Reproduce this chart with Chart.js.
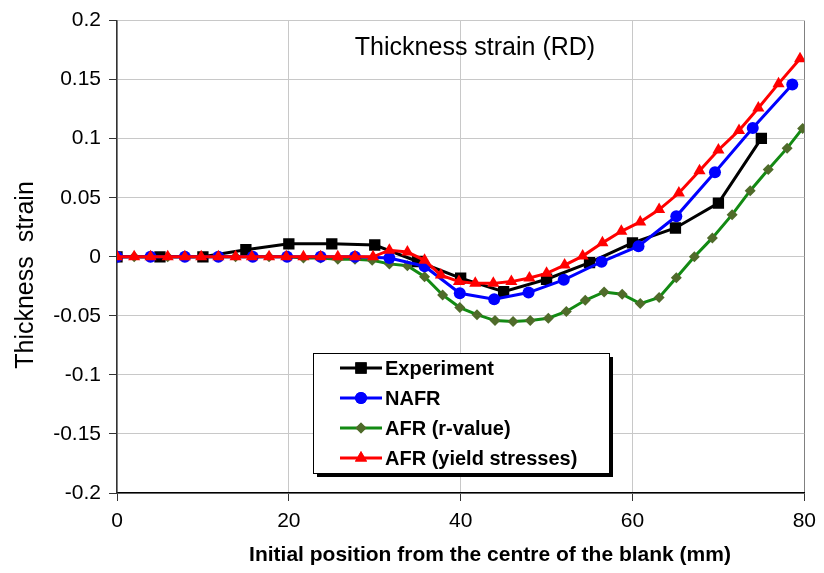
<!DOCTYPE html>
<html>
<head>
<meta charset="utf-8">
<script src="https://cdn.jsdelivr.net/npm/chart.js@4.4.1/dist/chart.umd.min.js"></script>
<style>
  html, body { margin: 0; padding: 0; background: #fff; }
  #wrap { width: 824px; height: 573px; }
</style>
</head>
<body>
<div id="wrap"><canvas id="strainChart" width="824" height="573"></canvas></div>
<script>
// Thickness strain along RD
const expX = [0, 5, 10, 15, 20, 25, 30, 35, 40, 45, 50, 55, 60, 65, 70, 75];
const expY = [0, 0, 0, 0.006, 0.011, 0.011, 0.01, -0.004, -0.018, -0.0295, -0.019, -0.005, 0.0118, 0.0244, 0.0455, 0.1003];

const nafrX = [0, 3.9, 7.9, 11.8, 15.8, 19.8, 23.7, 27.7, 31.7, 35.8, 39.9, 43.9, 47.9, 52, 56.4, 60.7, 65.1, 69.6, 74, 78.6];
const nafrY = [0, 0, 0, 0, 0, 0, 0, 0, -0.001, -0.008, -0.0309, -0.036, -0.0303, -0.0195, -0.0042, 0.009, 0.0343, 0.0716, 0.109, 0.1458];

const rvalX = [0, 2, 3.9, 5.9, 7.9, 9.8, 11.8, 13.8, 15.7, 17.7, 19.7, 21.7, 23.7, 25.7, 27.7,
  29.7, 31.7, 33.8, 35.8, 37.9, 39.9, 41.9, 44, 46.1, 48.1, 50.2, 52.3, 54.5, 56.7, 58.8,
  60.9, 63.1, 65.1, 67.2, 69.3, 71.6, 73.7, 75.8, 78, 79.8];
const rvalY = [0, 0, 0, 0, 0, 0, 0, 0, 0, 0, 0, -0.001, -0.001, -0.002, -0.002,
  -0.003, -0.006, -0.0076, -0.0169, -0.0323, -0.043, -0.049, -0.054, -0.0548, -0.054, -0.052, -0.0463, -0.0368, -0.0298, -0.0317,
  -0.0396, -0.0345, -0.0177, 0, 0.016, 0.0357, 0.056, 0.074, 0.092, 0.1087];

const yieldX = [0, 2, 3.9, 5.9, 7.9, 9.8, 11.8, 13.8, 15.7, 17.7, 19.7, 21.7, 23.7, 25.7, 27.7,
  29.8, 31.7, 33.8, 35.8, 37.7, 39.8, 41.7, 43.8, 45.9, 48, 50, 52.1, 54.2, 56.5, 58.7,
  60.9, 63.1, 65.4, 67.8, 70, 72.4, 74.65, 77, 79.5];
const yieldY = [0, 0, 0, 0, 0, 0, 0, 0, 0, 0, 0, 0, 0, 0, 0,
  0, 0.0056, 0.004, -0.003, -0.0155, -0.021, -0.0225, -0.0225, -0.021, -0.018, -0.014, -0.007, 0.0006, 0.0118, 0.0216,
  0.0295, 0.04, 0.054, 0.0728, 0.0904, 0.107, 0.126, 0.1466, 0.1677];

const xTicks = [0, 20, 40, 60, 80];
const yTicks = [-0.2, -0.15, -0.1, -0.05, 0, 0.05, 0.1, 0.15, 0.2];

const chartTitle = 'Thickness strain (RD)';
const xTitle = 'Initial position from the centre of the blank (mm)';
const yTitle = 'Thickness  strain';

function pts(xs, ys) {
  return xs.map((x, i) => ({ x: x, y: ys[i] }));
}

const datasets = [
  {
    label: 'Experiment', data: pts(expX, expY), order: 2,
    borderColor: '#000000', backgroundColor: '#000000', borderWidth: 3,
    pointStyle: 'rect', pointRadius: 8, pointBorderWidth: 0
  },
  {
    label: 'NAFR', data: pts(nafrX, nafrY), order: 1,
    borderColor: '#0000ff', backgroundColor: '#0000ff', borderWidth: 3,
    pointStyle: 'circle', pointRadius: 6, pointBorderWidth: 0
  },
  {
    label: 'AFR (r-value)', data: pts(rvalX, rvalY), order: 3,
    borderColor: '#138a13', backgroundColor: '#4f6b2a', borderWidth: 3,
    pointStyle: 'rectRot', pointRadius: 5.5, pointBorderWidth: 0
  },
  {
    label: 'AFR (yield stresses)', data: pts(yieldX, yieldY), order: 0,
    borderColor: '#ff0000', backgroundColor: '#ff0000', borderWidth: 3,
    pointStyle: 'triangle', pointRadius: 7, pointBorderWidth: 0
  }
];

// title, axis titles and the boxed legend drawn inside the plot
const decorations = {
  id: 'decorations',
  afterDraw(chart) {
    const ctx = chart.ctx;
    ctx.save();
    ctx.fillStyle = '#000';
    ctx.textBaseline = 'middle';
    ctx.textAlign = 'center';

    ctx.font = '25px "Liberation Sans", Arial, sans-serif';
    ctx.fillText(chartTitle, 475, 48);

    ctx.font = 'bold 21px "Liberation Sans", Arial, sans-serif';
    ctx.fillText(xTitle, 490, 555);

    ctx.save();
    ctx.translate(26, 275);
    ctx.rotate(-Math.PI / 2);
    ctx.font = '25px "Liberation Sans", Arial, sans-serif';
    ctx.fillText(yTitle, 0, 0);
    ctx.restore();

    // legend box with shadow
    const bx = 313, by = 353, bw = 296, bh = 120;
    ctx.fillStyle = '#000';
    ctx.fillRect(bx + 4, by + 4, bw, bh);
    ctx.fillStyle = '#fff';
    ctx.fillRect(bx, by, bw, bh);
    ctx.strokeStyle = '#000';
    ctx.lineWidth = 1;
    ctx.strokeRect(bx + 0.5, by + 0.5, bw, bh);

    const rows = [368, 398, 428, 458];
    ctx.textAlign = 'left';
    ctx.font = 'bold 20px "Liberation Sans", Arial, sans-serif';
    datasets.forEach((ds, i) => {
      const y = rows[i];
      ctx.strokeStyle = ds.borderColor;
      ctx.lineWidth = 3;
      ctx.beginPath();
      ctx.moveTo(340, y);
      ctx.lineTo(382, y);
      ctx.stroke();
      ctx.fillStyle = ds.backgroundColor;
      Chart.helpers.drawPoint(ctx, {
        pointStyle: ds.pointStyle, radius: ds.pointRadius, borderWidth: 0, rotation: 0
      }, 361, y);
      ctx.fill();
      ctx.fillStyle = '#000';
      ctx.fillText(ds.label, 385, y + 1);
    });
    ctx.restore();
  }
};

const ctx = document.getElementById('strainChart').getContext('2d');
new Chart(ctx, {
  type: 'line',
  data: { datasets: datasets },
  options: {
    responsive: false,
    animation: false,
    layout: { padding: { left: 0, top: 19, right: 16, bottom: 0 } },
    plugins: { legend: { display: false }, tooltip: { enabled: false } },
    elements: { line: { tension: 0 } },
    scales: {
      x: {
        type: 'linear', min: 0, max: 80,
        afterBuildTicks: s => { s.ticks = xTicks.map(v => ({ value: v })); },
        afterFit: s => { s.height = 80; },
        ticks: { font: { size: 21, family: '"Liberation Sans", Arial' }, color: '#000', padding: 8, maxRotation: 0 },
        grid: {
          color: c => (c.tick && c.tick.value === 80) ? '#808080' : '#c8c8c8',
          tickColor: '#333', tickLength: 8, lineWidth: 1
        },
        border: { color: '#000', width: 1.5 }
      },
      y: {
        min: -0.2, max: 0.2,
        afterBuildTicks: s => { s.ticks = yTicks.map(v => ({ value: v })); },
        afterFit: s => { s.width = 117; },
        ticks: {
          font: { size: 21, family: '"Liberation Sans", Arial' }, color: '#000', padding: 8,
          callback: v => String(Math.round(v * 100) / 100)
        },
        grid: { color: '#c8c8c8', tickColor: '#333', tickLength: 8, lineWidth: 1 },
        border: { color: '#333', width: 1.5 }
      }
    }
  },
  plugins: [decorations]
});
</script>
</body>
</html>
